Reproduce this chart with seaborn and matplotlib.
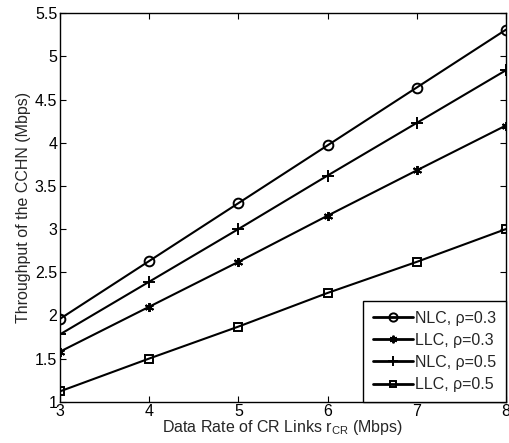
import matplotlib
matplotlib.use("Agg")
import matplotlib.pyplot as plt
import seaborn as sns
import pandas as pd

rates = [3, 4, 5, 6, 7, 8]
nlc_03 = [1.96, 2.63, 3.30, 3.97, 4.64, 5.31]
llc_03 = [1.58, 2.10, 2.62, 3.155, 3.68, 4.20]
nlc_05 = [1.78, 2.39, 3.00, 3.62, 4.23, 4.84]
llc_05 = [1.12, 1.50, 1.87, 2.26, 2.62, 3.00]
labels = ["NLC, ρ=0.3", "LLC, ρ=0.3", "NLC, ρ=0.5", "LLC, ρ=0.5"]
series = [nlc_03, llc_03, nlc_05, llc_05]
markers = ["o", (6, 2, 0), "+", "s"]
msizes = [7, 6.5, 8, 5.5]

sns.set_style("ticks")
plt.rcParams["font.family"] = ["Liberation Sans", "DejaVu Sans"]
plt.rcParams["font.size"] = 11
plt.rcParams["mathtext.fontset"] = "custom"
plt.rcParams["mathtext.rm"] = "Liberation Sans"
plt.rcParams["mathtext.it"] = "Liberation Sans"

fig = plt.figure(figsize=(5.10, 4.43), dpi=100)
ax = fig.add_axes([0.1176, 0.0932, 0.8744, 0.8768])

for lab, ys, m, ms in zip(labels, series, markers, msizes):
    df = pd.DataFrame({"x": rates, "y": ys})
    sns.lineplot(data=df, x="x", y="y", ax=ax, color="black", linewidth=1.5,
                 marker=m, markersize=ms, markerfacecolor="none",
                 markeredgecolor="black", markeredgewidth=1.4, label=lab)

ax.set_xlim(3, 8)
ax.set_ylim(1, 5.5)
ax.set_xticks(rates)
ax.set_yticks([1, 1.5, 2, 2.5, 3, 3.5, 4, 4.5, 5, 5.5])
ax.set_yticklabels(["1", "1.5", "2", "2.5", "3", "3.5", "4", "4.5", "5", "5.5"])
ax.tick_params(direction="in", top=True, right=True, labelsize=11.5, length=4, width=0.8,
               colors="black", pad=2)
for s in ax.spines.values():
    s.set_visible(True)
    s.set_color("black")
    s.set_linewidth(1.0)
ax.set_xlabel("Data Rate of CR Links r$_{\\rm CR}$ (Mbps)", fontsize=11.5, labelpad=-1)
ax.set_ylabel("Throughput of the CCHN (Mbps)", fontsize=11.5, labelpad=3)

leg = ax.legend(loc="lower right", borderaxespad=0, fontsize=11.5, handlelength=2.5,
                fancybox=False, framealpha=1, edgecolor="black", labelspacing=0.45,
                handletextpad=0.15, borderpad=0.6, markerscale=0.85)
leg.get_frame().set_linewidth(1.0)
for line in leg.get_lines():
    line.set_linewidth(2.0)

fig.savefig("out.png", dpi=100)
